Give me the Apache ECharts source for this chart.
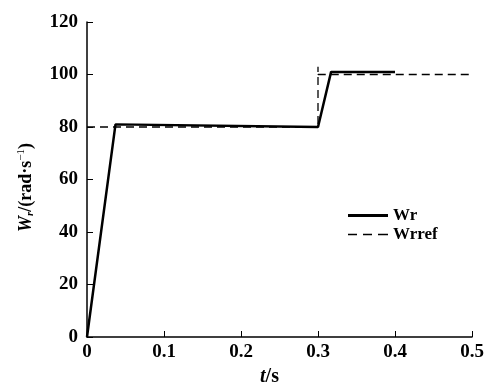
<!DOCTYPE html>
<html>
<head>
<meta charset="utf-8">
<script src="https://cdn.jsdelivr.net/npm/echarts@6/dist/echarts.min.js"></script>
<style>
  html, body { margin: 0; padding: 0; background: #fff; }
  #chart { width: 488px; height: 385px; }
</style>
</head>
<body>
<div id="chart"></div>
<script>
// speed response (t in s, value in rad/s)
const wrPoints = [[0, 0], [0.037, 81], [0.3, 80], [0.317, 101], [0.4, 101]];
const wrrefPoints = [[0, 80], [0.3, 80], [0.3, 103], [0.3, 100], [0.5, 100]];
const seriesNames = ["Wr", "Wrref"];
const xTicks = [0, 0.1, 0.2, 0.3, 0.4, 0.5];
const yTicks = [0, 20, 40, 60, 80, 100, 120];

const FONT = "'Liberation Serif', 'DejaVu Serif', serif";
// legend keys drawn as thin filled paths (solid bar / three dashes)
const SOLID_KEY = "path://M0,0H40V3H0Z";
const DASH_KEY = "path://M0,0H9V1.6H0Z M15,0H24V1.6H15Z M30,0H40V1.6H30Z";

const chart = echarts.init(document.getElementById("chart"), null, { renderer: "canvas" });

const option = {
  animation: false,
  backgroundColor: "#fff",
  grid: { left: 87, right: 16, top: 22, bottom: 48, containLabel: false, outerBoundsMode: "none" },
  legend: {
    orient: "vertical",
    left: 343,
    top: 202,
    itemGap: 2,
    itemWidth: 40,
    itemHeight: 3,
    data: [
      { name: seriesNames[0], icon: SOLID_KEY },
      { name: seriesNames[1], icon: DASH_KEY }
    ],
    textStyle: { fontFamily: FONT, fontWeight: "bold", fontSize: 17, color: "#000" }
  },
  xAxis: {
    type: "value",
    min: xTicks[0],
    max: xTicks[xTicks.length - 1],
    interval: 0.1,
    name: "{i|t}{n|/s}",
    nameLocation: "middle",
    nameGap: 27,
    nameTextStyle: {
      padding: [0, 20, 0, 0],
      rich: {
        i: { fontFamily: FONT, fontStyle: "italic", fontWeight: "bold", fontSize: 20, color: "#000" },
        n: { fontFamily: FONT, fontWeight: "bold", fontSize: 20, color: "#000" }
      }
    },
    axisLine: { lineStyle: { color: "#000", width: 1.5 } },
    axisTick: { inside: true, length: 6, lineStyle: { color: "#000", width: 1 } },
    axisLabel: { fontFamily: FONT, fontWeight: "bold", fontSize: 19, color: "#000", margin: 6,
      formatter: v => (v === 0 ? "0" : v.toFixed(1)) },
    splitLine: { show: false }
  },
  yAxis: {
    type: "value",
    min: yTicks[0],
    max: yTicks[yTicks.length - 1],
    interval: 20,
    name: "{i|W}{s|r}{n|/(rad·s}{p|−1}{n|)}",
    nameLocation: "middle",
    nameGap: 51,
    nameRotate: 90,
    nameTextStyle: {
      padding: [0, 16, 0, 0],
      rich: {
        i: { fontFamily: FONT, fontStyle: "italic", fontWeight: "bold", fontSize: 18, color: "#000" },
        s: { fontFamily: FONT, fontStyle: "italic", fontWeight: "bold", fontSize: 11, color: "#000", verticalAlign: "bottom", padding: [9, 0, 0, 0] },
        n: { fontFamily: FONT, fontWeight: "bold", fontSize: 18, color: "#000" },
        p: { fontFamily: FONT, fontSize: 11, color: "#000", verticalAlign: "top", padding: [0, 0, 9, 0] }
      }
    },
    axisLine: { show: true, lineStyle: { color: "#000", width: 1.5 } },
    axisTick: { show: true, inside: true, length: 6, lineStyle: { color: "#000", width: 1 } },
    axisLabel: { fontFamily: FONT, fontWeight: "bold", fontSize: 19, color: "#000", margin: 9 },
    splitLine: { show: false }
  },
  series: [
    {
      name: seriesNames[0],
      type: "line",
      data: wrPoints,
      symbol: "none",
      lineStyle: { color: "#000", width: 2.5, type: "solid" },
      itemStyle: { color: "#000" },
      z: 3
    },
    {
      name: seriesNames[1],
      type: "line",
      data: wrrefPoints,
      symbol: "none",
      lineStyle: { color: "#000", width: 1.3, type: [8, 5] },
      itemStyle: { color: "#000" },
      z: 2
    }
  ]
};

chart.setOption(option);
</script>
</body>
</html>
